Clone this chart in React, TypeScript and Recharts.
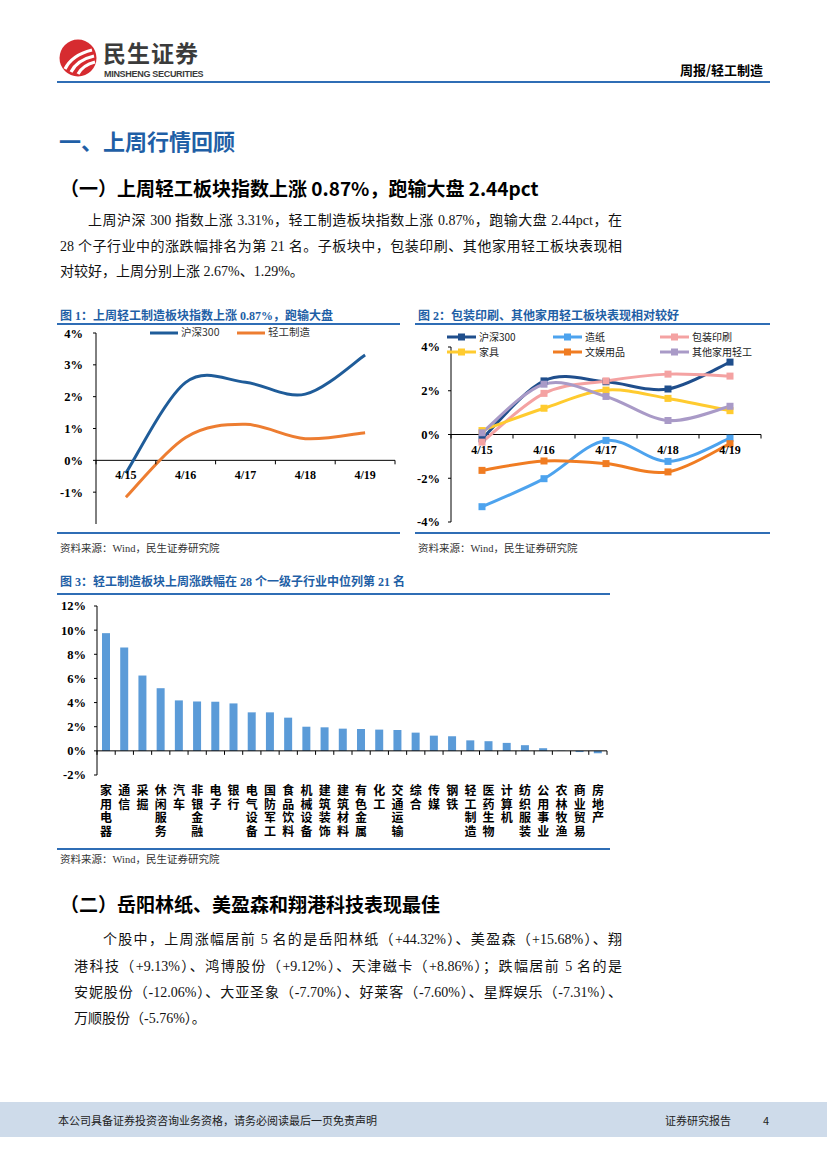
import React from 'react';
import { LineChart, Line, BarChart, Bar, XAxis, YAxis, ReferenceLine } from 'recharts';

// 字体
const SERIF = "'Liberation Serif', 'Noto Sans CJK SC', serif";
const SANS = "'Noto Sans CJK SC', 'Liberation Sans', sans-serif";
const BLUE = '#1F5FA6';
const RULE = '#2F6DB5';

// 图1 / 图2 日期
const dates = ['4/15', '4/16', '4/17', '4/18', '4/19'];

// 图1：沪深300 vs 轻工制造
const hs300Fig1 = [-0.4, 2.45, 2.45, 2.08, 3.31];
const lightFig1 = [-1.16, 0.72, 1.13, 0.68, 0.87];

// 图2：子板块
const hs300Fig2 = [-0.2, 2.45, 2.41, 2.08, 3.31];
const paper = [-3.3, -2.02, -0.27, -1.23, -0.17];
const packaging = [-0.35, 1.88, 2.45, 2.76, 2.67];
const furniture = [0.18, 1.2, 2.03, 1.65, 1.09];
const stationery = [-1.64, -1.21, -1.33, -1.71, -0.42];
const otherLight = [0.08, 2.3, 1.74, 0.64, 1.29];

const fig2Series = [
  { key: 'hs300', name: '沪深300', color: '#1F4E8C', values: hs300Fig2 },
  { key: 'paper', name: '造纸', color: '#4DA3EE', values: paper },
  { key: 'pack', name: '包装印刷', color: '#F4A2A2', values: packaging },
  { key: 'furn', name: '家具', color: '#FFCB2F', values: furniture },
  { key: 'stat', name: '文娱用品', color: '#F07C22', values: stationery },
  { key: 'other', name: '其他家用轻工', color: '#A99AC7', values: otherLight },
];

// 图3：一级行业涨跌幅
const industries = [
  '家用电器', '通信', '采掘', '休闲服务', '汽车', '非银金融', '电子', '银行', '电气设备', '国防军工',
  '食品饮料', '机械设备', '建筑装饰', '建筑材料', '有色金属', '化工', '交通运输', '综合', '传媒', '钢铁',
  '轻工制造', '医药生物', '计算机', '纺织服装', '公用事业', '农林牧渔', '商业贸易', '房地产',
];
const industryReturns = [
  9.75, 8.57, 6.24, 5.19, 4.18, 4.09, 4.07, 3.93, 3.19, 3.19,
  2.75, 2.0, 1.95, 1.84, 1.81, 1.76, 1.73, 1.51, 1.26, 1.21,
  0.87, 0.8, 0.66, 0.47, 0.22, 0.02, -0.1, -0.2,
];

const fig1Data = dates.map((d, i) => ({ date: d, hs300: hs300Fig1[i], light: lightFig1[i] }));
const fig2Data = dates.map((d, i) => {
  const row: any = { date: d };
  fig2Series.forEach((s) => (row[s.key] = s.values[i]));
  return row;
});
const fig3Data = industries.map((n, i) => ({ name: n, v: industryReturns[i] }));

// Excel 风格平滑线 (Catmull-Rom)
const smoothCurve: any = (ctx: any) => {
  let pts: number[][] = [];
  return {
    areaStart() {},
    areaEnd() {},
    lineStart() { pts = []; },
    point(x: number, y: number) { pts.push([+x, +y]); },
    lineEnd() {
      if (!pts.length) return;
      ctx.moveTo(pts[0][0], pts[0][1]);
      for (let i = 0; i < pts.length - 1; i++) {
        const p0 = pts[i - 1] || pts[i];
        const p1 = pts[i];
        const p2 = pts[i + 1];
        const p3 = pts[i + 2] || p2;
        ctx.bezierCurveTo(
          p1[0] + (p2[0] - p0[0]) / 6, p1[1] + (p2[1] - p0[1]) / 6,
          p2[0] - (p3[0] - p1[0]) / 6, p2[1] - (p3[1] - p1[1]) / 6,
          p2[0], p2[1],
        );
      }
    },
  };
};

const tickFont = { fontFamily: SERIF, fontSize: 12.5, fontWeight: 700, fill: '#000' };

// 布局
const F1 = { w: 343, h: 205, top: 7, plotH: 191, yw: 39, right: 5, min: -2, max: 4 };
const F2 = { w: 355, h: 205, top: 21, plotH: 175, yw: 36, right: 9, min: -4, max: 4 };
const F3 = { w: 553, h: 250, top: 9, plotH: 169, yw: 40, right: 3, min: -2, max: 12 };

const zeroOf = (f: any) => f.top + (f.plotH * f.max) / (f.max - f.min);
const bandOf = (f: any, n: number) => (f.w - f.yw - f.right) / n;

const makeDateTick = (f: any) => (props: any) => {
  const { x, payload, index } = props;
  const zy = zeroOf(f);
  const band = bandOf(f, dates.length);
  return (
    <g>
      <line x1={x - band / 2} x2={x - band / 2} y1={zy} y2={zy + 4} stroke="#000" />
      {index === dates.length - 1 && <line x1={x + band / 2} x2={x + band / 2} y1={zy} y2={zy + 4} stroke="#000" />}
      <text x={x} y={zy + 19} textAnchor="middle" {...tickFont} fontSize={12}>
        {payload.value}
      </text>
    </g>
  );
};

// 竖排行业名（逐字）
const IndustryTick = (props: any) => {
  const { x, payload, index } = props;
  const zy = zeroOf(F3);
  const band = bandOf(F3, industries.length);
  const chars = Array.from(String(payload.value));
  return (
    <g>
      <line x1={x - band / 2} x2={x - band / 2} y1={zy} y2={zy + 4} stroke="#000" />
      {index === industries.length - 1 && <line x1={x + band / 2} x2={x + band / 2} y1={zy} y2={zy + 4} stroke="#000" />}
      {chars.map((c, i) => (
        <text key={i} x={x} y={F3.top + F3.plotH + 20 + i * 13.6} textAnchor="middle"
          fontFamily="'Liberation Sans', 'Noto Sans CJK SC', sans-serif" fontSize={12} fontWeight={700} fill="#000">
          {c}
        </text>
      ))}
    </g>
  );
};

const SquareDot = (color: string) => (p: any) => (
  <rect key={`${p.dataKey}-${p.index}`} x={p.cx - 3.5} y={p.cy - 3.5} width={7} height={7} fill={color} />
);

const T = ({ x, y, size, children, style }: any) => (
  <div style={{ position: 'absolute', left: x, top: y - size / 2, fontSize: size, lineHeight: `${size}px`, whiteSpace: 'nowrap', ...style }}>
    {children}
  </div>
);

const Rule = ({ x1, x2, y, h = 2, color = RULE }: any) => (
  <div style={{ position: 'absolute', left: x1, top: y - h / 2, width: x2 - x1, height: h, background: color }} />
);

const JLine = ({ x, y, w, children, size = 14 }: any) => (
  <div style={{ position: 'absolute', left: x, top: y - size / 2, width: w, fontSize: size, lineHeight: `${size}px`, whiteSpace: 'nowrap', textAlign: 'justify', textAlignLast: 'justify' as any }}>
    {children}
  </div>
);

const source = '资料来源：Wind，民生证券研究院';

export default function App() {
  const b1 = bandOf(F1, dates.length) / 2;
  const b2 = bandOf(F2, dates.length) / 2;
  return (
    <div style={{ position: 'absolute', left: 0, top: 0, width: 827, height: 1169, background: '#fff', overflow: 'hidden', fontFamily: SERIF, color: '#111' }}>
      {/* 页眉 */}
      <svg style={{ position: 'absolute', left: 59, top: 38 }} width={40} height={40}>
        <circle cx={19} cy={20} r={18.5} fill="#D62B30" />
        <path d="M6 31 Q13 17 33 12" stroke="#fff" strokeWidth={3.2} fill="none" />
        <path d="M12 34 Q18 22 35 18" stroke="#fff" strokeWidth={3.2} fill="none" />
        <path d="M19 36 Q24 27 36 24" stroke="#fff" strokeWidth={3.2} fill="none" />
      </svg>
      <T x={103} y={52} size={23} style={{ fontFamily: SANS, fontWeight: 700, color: '#3B3B3B', letterSpacing: 1 }}>民生证券</T>
      <T x={104} y={74} size={9} style={{ fontFamily: "'Liberation Sans', sans-serif", fontWeight: 700, color: '#3B3B3B', letterSpacing: -0.3 }}>MINSHENG SECURITIES</T>
      <T x={680} y={69} size={13} style={{ fontFamily: SANS, fontWeight: 700, color: '#000' }}>周报/轻工制造</T>
      <Rule x1={57} x2={770} y={82} h={2.5} />

      {/* 一、上周行情回顾 */}
      <T x={59} y={140} size={22} style={{ fontFamily: SANS, fontWeight: 700, color: BLUE }}>一、上周行情回顾</T>
      <T x={60} y={187} size={19} style={{ fontFamily: SANS, fontWeight: 700, color: '#000' }}>（一）上周轻工板块指数上涨 0.87%，跑输大盘 2.44pct</T>
      <JLine x={88} y={221} w={534}>上周沪深 300 指数上涨 3.31%，轻工制造板块指数上涨 0.87%，跑输大盘 2.44pct，在</JLine>
      <JLine x={60} y={247} w={562}>28 个子行业中的涨跌幅排名为第 21 名。子板块中，包装印刷、其他家用轻工板块表现相</JLine>
      <T x={60} y={272} size={14}>对较好，上周分别上涨 2.67%、1.29%。</T>

      {/* 图1 */}
      <T x={60} y={316} size={12} style={{ fontWeight: 700, color: BLUE }}>图 1：上周轻工制造板块指数上涨 0.87%，跑输大盘</T>
      <Rule x1={57} x2={400} y={324} h={1.5} />
      <div style={{ position: 'absolute', left: 57, top: 326 }}>
        <LineChart width={F1.w} height={F1.h} data={fig1Data} margin={{ top: F1.top, right: F1.right, bottom: 0, left: 0 }}>
          <XAxis dataKey="date" height={F1.h - F1.top - F1.plotH} padding={{ left: b1, right: b1 }} axisLine={false} tickLine={false} interval={0} tick={makeDateTick(F1)} />
          <YAxis width={F1.yw} domain={[F1.min, F1.max]} ticks={[-2, -1, 0, 1, 2, 3, 4]} tickFormatter={(v: number) => `${v}%`}
            axisLine={{ stroke: '#000' }} tickLine={{ stroke: '#000' }} tickSize={3} tickMargin={10} tick={tickFont} />
          <ReferenceLine y={0} stroke="#000" strokeWidth={1} />
          <Line dataKey="hs300" stroke="#1F5C99" strokeWidth={3} type={smoothCurve} dot={false} isAnimationActive={false} />
          <Line dataKey="light" stroke="#ED7D31" strokeWidth={3} type={smoothCurve} dot={false} isAnimationActive={false} />
        </LineChart>
      </div>
      <svg style={{ position: 'absolute', left: 148, top: 327 }} width={130} height={12}>
        <line x1={2} x2={30} y1={6} y2={6} stroke="#1F5C99" strokeWidth={3} />
        <line x1={89} x2={117} y1={6} y2={6} stroke="#ED7D31" strokeWidth={3} />
      </svg>
      <T x={181} y={332} size={10.5} style={{ fontFamily: SANS, color: '#333' }}>沪深300</T>
      <T x={268} y={332} size={10.5} style={{ fontFamily: SANS, color: '#333' }}>轻工制造</T>
      <Rule x1={57} x2={400} y={533} h={1.5} />
      <T x={60} y={549} size={10.5} style={{ color: '#333' }}>{source}</T>

      {/* 图2 */}
      <T x={418} y={316} size={12} style={{ fontWeight: 700, color: BLUE }}>图 2：包装印刷、其他家用轻工板块表现相对较好</T>
      <Rule x1={415} x2={770} y={324} h={1.5} />
      <div style={{ position: 'absolute', left: 415, top: 326 }}>
        <LineChart width={F2.w} height={F2.h} data={fig2Data} margin={{ top: F2.top, right: F2.right, bottom: 0, left: 0 }}>
          <XAxis dataKey="date" height={F2.h - F2.top - F2.plotH} padding={{ left: b2, right: b2 }} axisLine={false} tickLine={false} interval={0} tick={makeDateTick(F2)} />
          <YAxis width={F2.yw} domain={[F2.min, F2.max]} ticks={[-4, -2, 0, 2, 4]} tickFormatter={(v: number) => `${v}%`}
            axisLine={{ stroke: '#000' }} tickLine={{ stroke: '#000' }} tickSize={3} tickMargin={8} tick={tickFont} />
          <ReferenceLine y={0} stroke="#000" strokeWidth={1} />
          {fig2Series.map((s) => (
            <Line key={s.key} dataKey={s.key} stroke={s.color} strokeWidth={3} type={smoothCurve} dot={SquareDot(s.color)} isAnimationActive={false} />
          ))}
        </LineChart>
      </div>
      {fig2Series.map((s, i) => {
        const col = i % 3;
        const row = Math.floor(i / 3);
        const lx = [447, 553, 660][col];
        const ly = 337 + row * 14.5;
        return (
          <React.Fragment key={s.key}>
            <svg style={{ position: 'absolute', left: lx, top: ly - 5 }} width={30} height={10}>
              <line x1={0} x2={29} y1={5} y2={5} stroke={s.color} strokeWidth={3} />
              <rect x={11} y={1.5} width={7} height={7} fill={s.color} />
            </svg>
            <T x={lx + 32} y={ly} size={10} style={{ fontFamily: SANS, color: '#222' }}>{s.name}</T>
          </React.Fragment>
        );
      })}
      <Rule x1={415} x2={770} y={533} h={1.5} />
      <T x={418} y={549} size={10.5} style={{ color: '#333' }}>{source}</T>

      {/* 图3 */}
      <T x={60} y={582} size={12} style={{ fontWeight: 700, color: BLUE }}>图 3：轻工制造板块上周涨跌幅在 28 个一级子行业中位列第 21 名</T>
      <Rule x1={57} x2={610} y={594} h={1.5} />
      <div style={{ position: 'absolute', left: 57, top: 597 }}>
        <BarChart width={F3.w} height={F3.h} data={fig3Data} margin={{ top: F3.top, right: F3.right, bottom: 0, left: 0 }}>
          <XAxis dataKey="name" height={F3.h - F3.top - F3.plotH} axisLine={false} tickLine={false} interval={0} tick={<IndustryTick />} />
          <YAxis width={F3.yw} domain={[F3.min, F3.max]} ticks={[-2, 0, 2, 4, 6, 8, 10, 12]} tickFormatter={(v: number) => `${v}%`}
            axisLine={{ stroke: '#000' }} tickLine={{ stroke: '#000' }} tickSize={3} tickMargin={8} tick={tickFont} />
          <Bar dataKey="v" fill="#5B9BD8" barSize={8} isAnimationActive={false} />
          <ReferenceLine y={0} stroke="#000" strokeWidth={1} />
        </BarChart>
      </div>
      <Rule x1={57} x2={610} y={849} h={1.5} />
      <T x={60} y={860} size={10.5} style={{ color: '#333' }}>{source}</T>

      {/* （二） */}
      <T x={60} y={903} size={19} style={{ fontFamily: SANS, fontWeight: 700, color: '#000' }}>（二）岳阳林纸、美盈森和翔港科技表现最佳</T>
      <JLine x={103} y={940} w={519}>个股中，上周涨幅居前 5 名的是岳阳林纸（+44.32%）、美盈森（+15.68%）、翔</JLine>
      <JLine x={74} y={967} w={548}>港科技（+9.13%）、鸿博股份（+9.12%）、天津磁卡（+8.86%）；跌幅居前 5 名的是</JLine>
      <JLine x={74} y={993} w={548}>安妮股份（-12.06%）、大亚圣象（-7.70%）、好莱客（-7.60%）、星辉娱乐（-7.31%）、</JLine>
      <T x={74} y={1019} size={14}>万顺股份（-5.76%）。</T>

      {/* 页脚 */}
      <div style={{ position: 'absolute', left: 0, top: 1102, width: 827, height: 35, background: '#CEDBEA' }} />
      <T x={58} y={1120} size={11} style={{ fontFamily: SANS, color: '#222' }}>本公司具备证券投资咨询业务资格，请务必阅读最后一页免责声明</T>
      <T x={665} y={1120} size={11} style={{ fontFamily: SANS, color: '#222' }}>证券研究报告</T>
      <T x={763} y={1120} size={11} style={{ fontFamily: SANS, color: '#222' }}>4</T>
    </div>
  );
}
